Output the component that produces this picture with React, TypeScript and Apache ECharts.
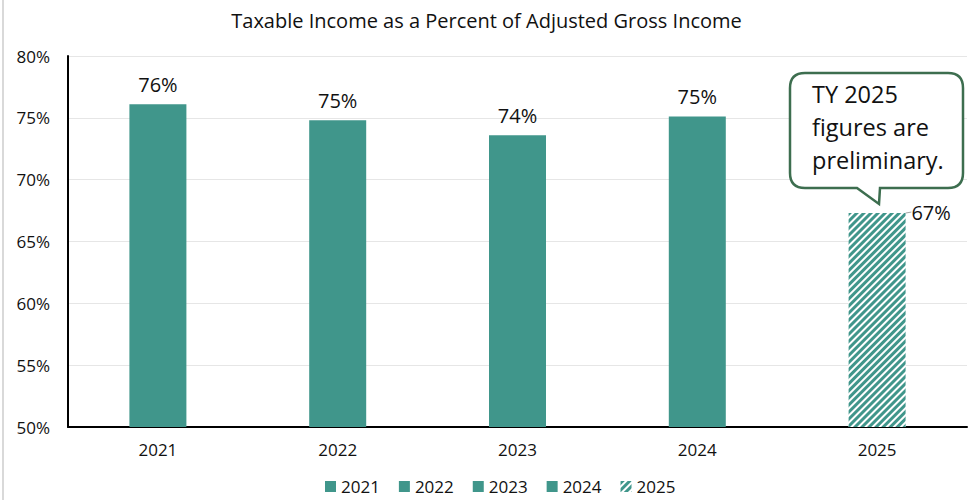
import React, { useEffect, useRef } from "react";
import * as echarts from "echarts";

const title = "Taxable Income as a Percent of Adjusted Gross Income";
const categories = ["2021", "2022", "2023", "2024", "2025"];
const values = [76.1, 74.8, 73.6, 75.1, 67.3];
const yTicks = { min: 50, max: 80, interval: 5 };
const calloutLines = ["TY 2025", "figures are", "preliminary."];

const TEAL = "#40968B";
const FONT = "'Open Sans', 'Noto Sans', sans-serif";

export default function App() {
  const ref = useRef<HTMLDivElement>(null);
  useEffect(() => {
    if (!ref.current) return;
    const chart = echarts.init(ref.current, undefined, { renderer: "svg" });
    const calloutPath =
      "M805,73 H948 Q963,73 963,88 V173 Q963,188 948,188 H880 L879,204 L857,188 H805 Q790,188 790,173 V88 Q790,73 805,73 Z";
    echarts.graphic.registerShape("callout", echarts.graphic.extendPath(calloutPath, {}) as any);

    const series = categories.map((c, i) => {
      const isLast = i === categories.length - 1;
      return {
        name: c,
        type: "bar",
        stack: "all",
        barWidth: 57,
        data: categories.map((_, j) => (j === i ? values[j] : "-")),
        itemStyle: isLast
          ? {
              color: "#ffffff",
              decal: {
                symbol: "rect",
                color: TEAL,
                dashArrayX: [1, 0],
                dashArrayY: [2.4, 1.2],
                rotation: -Math.PI / 4,
              },
            }
          : { color: TEAL, decal: { symbol: "none" } },
        label: {
          show: true,
          position: "top",
          distance: 10,
          fontFamily: FONT,
          fontSize: 20,
          color: "#111",
          formatter: (p: any) => Math.round(p.value) + "%",
        },
        labelLayout: isLast ? { dx: 54, dy: 19 } : undefined,
        labelLine: isLast
          ? { show: true, lineStyle: { color: "#a6a6a6", width: 1 } }
          : undefined,
      };
    });

    chart.setOption({
      animation: false,
      title: {
        text: title,
        left: "center",
        top: 5,
        textStyle: { fontFamily: FONT, fontSize: 20, fontWeight: "normal", color: "#111" },
      },
      legend: {
        top: 476,
        left: 323,
        padding: 2,
        itemWidth: 11,
        itemHeight: 11,
        itemGap: 19,
        icon: "rect",
        textStyle: { fontFamily: FONT, fontSize: 17, color: "#111" },
        data: categories,
      },
      grid: { left: 68, right: 6, top: 56, bottom: 75 },
      xAxis: {
        type: "category",
        data: categories,
        axisLine: { lineStyle: { color: "#000", width: 2 } },
        axisTick: { show: false },
        axisLabel: { fontFamily: FONT, fontSize: 17, color: "#111", margin: 14 },
      },
      yAxis: {
        type: "value",
        min: yTicks.min,
        max: yTicks.max,
        interval: yTicks.interval,
        axisLine: { show: true, lineStyle: { color: "#000", width: 2 } },
        axisTick: { show: false },
        splitLine: { lineStyle: { color: "#e6e6e6" } },
        axisLabel: {
          fontFamily: FONT,
          fontSize: 17,
          color: "#111",
          margin: 18,
          formatter: (v: number) => v + "%",
        },
      },
      series,
      graphic: [
        {
          type: "line",
          shape: { x1: 3, y1: 0, x2: 3, y2: 500 },
          style: { stroke: "#d9d9d9", lineWidth: 2 },
        },
        {
          type: "callout",
          x: 0,
          y: 0,
          style: { fill: "#fff", stroke: "#3d6e4f", lineWidth: 2.5 },
          z: 100,
        },
        {
          type: "text",
          x: 812,
          y: 77,
          z: 101,
          style: {
            text: calloutLines.join("\n"),
            fontFamily: FONT,
            fontSize: 23.5,
            lineHeight: 33,
            fill: "#111",
          },
        },
      ],
    } as any);
    return () => chart.dispose();
  }, []);
  return <div ref={ref} style={{ width: 973, height: 502, position: "absolute", left: 0, top: 0, background: "#fff" }} />;
}
